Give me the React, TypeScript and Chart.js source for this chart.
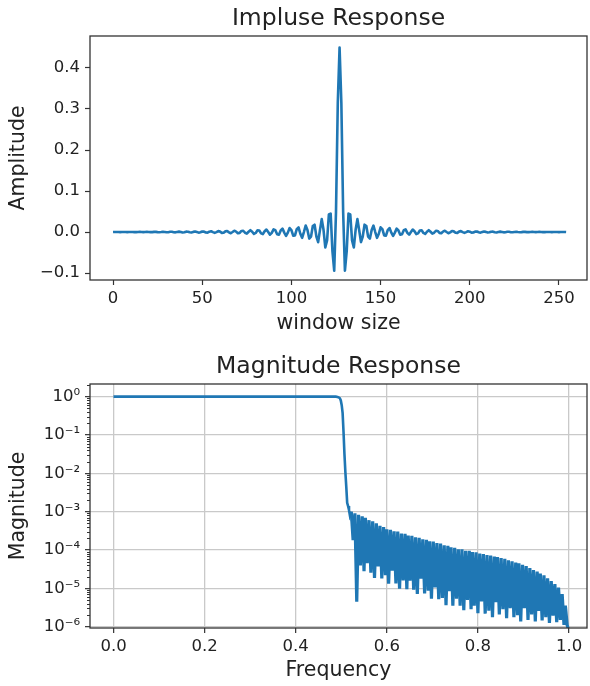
import React, { useEffect, useRef } from 'react';
import { Chart, registerables } from 'chart.js';

Chart.register(...registerables);

// ---------- Data: impulse response (taps 0..254) ----------
const IMPULSE = [
  -0.0001, 0.0002, 0.0001, -0.0001, -0.0002, 0.0001, 0.0002, 0, -0.0002, -0.0001,
  0.0002, 0.0002, -0.0002, -0.0002, 0.0001, 0.0003, -0.0001, -0.0003, -0.0001, 0.0004,
  0.0002, -0.0003, -0.0003, 0.0003, 0.0004, -0.0002, -0.0005, 0, 0.0006, 0.0002,
  -0.0006, -0.0004, 0.0005, 0.0006, -0.0004, -0.0008, 0.0001, 0.0009, 0.0002, -0.0010,
  -0.0005, 0.0009, 0.0008, -0.0007, -0.0011, 0.0004, 0.0013, 0, -0.0015, -0.0005,
  0.0014, 0.0010, -0.0012, -0.0015, 0.0009, 0.0019, -0.0003, -0.0021, -0.0003, 0.0022,
  0.0011, -0.0020, -0.0018, 0.0016, 0.0025, -0.0009, -0.0029, 0, 0.0032, 0.0010,
  -0.0031, -0.0021, 0.0026, 0.0031, -0.0018, -0.0039, 0.0007, 0.0044, 0.0007, -0.0045,
  -0.0022, 0.0041, 0.0037, -0.0032, -0.0050, 0.0018, 0.0060, 0, -0.0065, -0.0021,
  0.0063, 0.0043, -0.0054, -0.0064, 0.0037, 0.0082, -0.0014, -0.0093, -0.0015, 0.0097,
  0.0048, -0.0090, -0.0082, 0.0072, 0.0114, -0.0042, -0.0141, 0, 0.0157, 0.0052,
  -0.0160, -0.0113, 0.0145, 0.0179, -0.0109, -0.0247, 0.0045, 0.0314, 0.0055, -0.0375,
  -0.0205, 0.0427, 0.0449, -0.0467, -0.0944, 0.0492, 0.3144,
  0.45,
  0.3144, 0.0492, -0.0944, -0.0467, 0.0449, 0.0427, -0.0205, -0.0375, 0.0055, 0.0314,
  0.0045, -0.0247, -0.0109, 0.0179, 0.0145, -0.0113, -0.0160, 0.0052, 0.0157, 0,
  -0.0141, -0.0042, 0.0114, 0.0072, -0.0082, -0.0090, 0.0048, 0.0097, -0.0015, -0.0093,
  -0.0014, 0.0082, 0.0037, -0.0064, -0.0054, 0.0043, 0.0063, -0.0021, -0.0065, 0,
  0.0060, 0.0018, -0.0050, -0.0032, 0.0037, 0.0041, -0.0022, -0.0045, 0.0007, 0.0044,
  0.0007, -0.0039, -0.0018, 0.0031, 0.0026, -0.0021, -0.0031, 0.0010, 0.0032, 0,
  -0.0029, -0.0009, 0.0025, 0.0016, -0.0018, -0.0020, 0.0011, 0.0022, -0.0003, -0.0021,
  -0.0003, 0.0019, 0.0009, -0.0015, -0.0012, 0.0010, 0.0014, -0.0005, -0.0015, 0,
  0.0013, 0.0004, -0.0011, -0.0007, 0.0008, 0.0009, -0.0005, -0.0010, 0.0002, 0.0009,
  0.0001, -0.0008, -0.0004, 0.0006, 0.0005, -0.0004, -0.0006, 0.0002, 0.0006, 0,
  -0.0005, -0.0002, 0.0004, 0.0003, -0.0003, -0.0003, 0.0002, 0.0004, -0.0001, -0.0003,
  -0.0001, 0.0003, 0.0001, -0.0002, -0.0002, 0.0002, 0.0002, -0.0001, -0.0002, 0,
  0.0002, 0.0001, -0.0002, -0.0001, 0.0001, 0.0002, -0.0001,
];
const IMPULSE_X_TICKS = [0, 50, 100, 150, 200, 250];
const IMPULSE_Y_TICKS = [-0.1, 0, 0.1, 0.2, 0.3, 0.4];
const IMPULSE_Y_LABELS = ['\u22120.1', '0.0', '0.1', '0.2', '0.3', '0.4'];

// ---------- Data: magnitude response ----------
const FREQ = [
  0, 0.1, 0.2, 0.3, 0.4, 0.488, 0.492, 0.495, 0.497, 0.499, 0.501, 0.503, 0.505, 0.507, 0.509, 0.511, 0.513, 0.515, 0.517, 0.519,
  0.522, 0.526, 0.530, 0.534, 0.538, 0.542, 0.546, 0.550, 0.553, 0.557, 0.561, 0.565, 0.569, 0.573, 0.577, 0.581, 0.585, 0.589, 0.593, 0.597,
  0.600, 0.604, 0.608, 0.612, 0.616, 0.620, 0.624, 0.628, 0.632, 0.636, 0.640, 0.644, 0.647, 0.651, 0.655, 0.659, 0.663, 0.667, 0.671, 0.675,
  0.679, 0.683, 0.687, 0.691, 0.694, 0.698, 0.702, 0.706, 0.710, 0.714, 0.718, 0.722, 0.726, 0.730, 0.734, 0.738, 0.741, 0.745, 0.749, 0.753,
  0.757, 0.761, 0.765, 0.769, 0.773, 0.777, 0.781, 0.785, 0.788, 0.792, 0.796, 0.800, 0.804, 0.808, 0.812, 0.816, 0.820, 0.824, 0.828, 0.832,
  0.836, 0.840, 0.843, 0.847, 0.851, 0.855, 0.859, 0.863, 0.867, 0.871, 0.875, 0.879, 0.883, 0.887, 0.890, 0.894, 0.898, 0.902, 0.906, 0.910,
  0.914, 0.918, 0.922, 0.926, 0.930, 0.934, 0.937, 0.941, 0.945, 0.949, 0.953, 0.957, 0.961, 0.965, 0.969, 0.973, 0.977, 0.981, 0.985, 0.989,
  0.992, 0.996, 0.998,
];
const MAG = [
  1.0, 1.0, 1.0, 1.0, 1.0, 1.0, 0.98, 0.95, 0.91, 0.8, 0.6, 0.37, 0.12, 0.032, 0.011, 0.0045, 0.0017, 0.0014, 0.0011, 0.0008,
  1.0e-3, 1.82e-4, 9.1e-4, 4.47e-6, 8.3e-4, 3.98e-5, 7.6e-4, 2.82e-5, 6.9e-4, 4.57e-5, 6.0e-4, 2.57e-5, 5.6e-4, 1.86e-5, 5.0e-4, 3.72e-5, 4.27e-4, 1.82e-5, 3.98e-4, 2.19e-5,
  3.47e-4, 1.32e-5, 3.39e-4, 2.88e-5, 3.09e-4, 1.35e-5, 3.02e-4, 9.8e-6, 2.69e-4, 1.62e-5, 2.63e-4, 9.5e-6, 2.40e-4, 1.58e-5, 2.34e-4, 9.3e-6, 2.14e-4, 7.1e-6, 2.09e-4, 1.78e-5,
  1.91e-4, 7.4e-6, 1.86e-4, 8.7e-6, 1.70e-4, 5.4e-6, 1.66e-4, 1.05e-5, 1.51e-4, 5.2e-6, 1.48e-4, 5.6e-6, 1.32e-4, 3.63e-6, 1.29e-4, 8.5e-6, 1.17e-4, 3.55e-6, 1.15e-4, 5.4e-6,
  1.05e-4, 3.55e-6, 1.05e-4, 2.69e-6, 9.5e-5, 5.0e-6, 9.5e-5, 2.88e-6, 8.9e-5, 3.55e-6, 8.7e-5, 2.24e-6, 8.1e-5, 4.57e-6, 7.9e-5, 2.19e-6, 7.4e-5, 2.63e-6, 7.2e-5, 1.78e-6,
  6.8e-5, 4.37e-6, 6.6e-5, 2.09e-6, 6.2e-5, 2.88e-6, 5.9e-5, 1.66e-6, 5.4e-5, 3.02e-6, 5.1e-5, 1.78e-6, 4.7e-5, 2.0e-6, 4.5e-5, 1.38e-6, 4.1e-5, 3.02e-6, 3.8e-5, 1.51e-6,
  3.4e-5, 2.09e-6, 3.0e-5, 1.38e-6, 2.75e-5, 2.57e-6, 2.45e-5, 1.45e-6, 2.19e-5, 1.78e-6, 1.82e-5, 1.26e-6, 1.55e-5, 1.95e-6, 1.29e-5, 1.32e-6, 1.05e-5, 1.51e-6, 7.1e-6, 1.12e-6,
  3.55e-6, 1.1e-6, 9e-7,
];
const FREQ_TICKS = [0, 0.2, 0.4, 0.6, 0.8, 1.0];
const FREQ_LABELS = ['0.0', '0.2', '0.4', '0.6', '0.8', '1.0'];
const MAG_TICKS = [1e-6, 1e-5, 1e-4, 1e-3, 1e-2, 1e-1, 1];
const MAG_LABELS = ['10\u207B\u2076', '10\u207B\u2075', '10\u207B\u2074', '10\u207B\u00B3', '10\u207B\u00B2', '10\u207B\u00B9', '10\u2070'];

// ---------- Styles ----------
const FONT = 'DejaVu Sans';
const TEXT = '#222222';
const AXIS = '#333333';
const LINE = '#1f77b4';
const GRID = '#c9c9c9';
const W = 590;
const H = 343;
const DENSE_FROM = 0.52; // stopband: drawn a bit heavier, like the dense band in the source

const framePlugin = {
  id: 'frame',
  afterDatasetsDraw(chart: any) {
    const { ctx, chartArea } = chart;
    ctx.save();
    ctx.strokeStyle = AXIS;
    ctx.lineWidth = 1.3;
    ctx.strokeRect(chartArea.left, chartArea.top, chartArea.right - chartArea.left, chartArea.bottom - chartArea.top);
    ctx.restore();
  },
};

const minorTickPlugin = {
  id: 'minorTicks',
  afterDraw(chart: any) {
    const y = chart.scales.y;
    const { ctx, chartArea } = chart;
    ctx.save();
    ctx.strokeStyle = AXIS;
    ctx.lineWidth = 1;
    for (let e = -7; e <= 0; e++) {
      for (let m = 2; m <= 9; m++) {
        const v = m * Math.pow(10, e);
        if (v < y.min || v > y.max) continue;
        const py = Math.round(y.getPixelForValue(v)) + 0.5;
        ctx.beginPath();
        ctx.moveTo(chartArea.left - 3, py);
        ctx.lineTo(chartArea.left, py);
        ctx.stroke();
      }
    }
    ctx.restore();
  },
};

function tickFont() {
  return { family: FONT, size: 16.5 };
}
function labelFont() {
  return { family: FONT, size: 20.5, weight: 'normal' as const };
}

function impulseConfig(): any {
  return {
    type: 'line',
    data: {
      datasets: [
        {
          data: IMPULSE.map((y, i) => ({ x: i, y })),
          borderColor: LINE,
          borderWidth: 2.6,
          pointRadius: 0,
          tension: 0,
          fill: false,
          borderJoinStyle: 'round',
        },
      ],
    },
    options: {
      animation: false,
      responsive: false,
      devicePixelRatio: 1,
      events: [],
      layout: { padding: { left: 0, right: 3, top: 0, bottom: 0 } },
      plugins: {
        legend: { display: false },
        tooltip: { enabled: false },
        title: {
          display: true,
          fullSize: false,
          text: 'Impluse Response',
          color: TEXT,
          font: { family: FONT, size: 23.5, weight: 'normal' },
          padding: { top: 4.4, bottom: 3.4 },
        },
      },
      scales: {
        x: {
          type: 'linear',
          min: -12.9,
          max: 265.7,
          afterBuildTicks: (s: any) => {
            s.ticks = IMPULSE_X_TICKS.map((v) => ({ value: v }));
          },
          afterFit: (s: any) => {
            s.height = 63;
          },
          grid: { drawOnChartArea: false, drawTicks: true, tickLength: 5, tickColor: AXIS, tickWidth: 1.2 },
          border: { display: false },
          ticks: {
            color: TEXT,
            font: tickFont(),
            padding: 3.5,
            maxRotation: 0,
            autoSkip: false,
            callback: (_v: any, i: number) => String(IMPULSE_X_TICKS[i]),
          },
          title: { display: true, text: 'window size', color: TEXT, font: labelFont(), padding: { top: 0, bottom: 7.2 } },
        },
        y: {
          type: 'linear',
          min: -0.117,
          max: 0.478,
          afterBuildTicks: (s: any) => {
            s.ticks = IMPULSE_Y_TICKS.map((v) => ({ value: v }));
          },
          afterFit: (s: any) => {
            s.width = 90;
          },
          grid: { drawOnChartArea: false, drawTicks: true, tickLength: 5, tickColor: AXIS, tickWidth: 1.2 },
          border: { display: false },
          ticks: {
            color: TEXT,
            font: tickFont(),
            padding: 5,
            autoSkip: false,
            callback: (_v: any, i: number) => IMPULSE_Y_LABELS[i],
          },
          title: { display: true, text: 'Amplitude', color: TEXT, font: labelFont(), padding: { top: 6.7, bottom: 0 } },
        },
      },
    },
    plugins: [framePlugin],
  };
}

function magnitudeConfig(): any {
  return {
    type: 'line',
    data: {
      datasets: [
        {
          data: FREQ.map((x, i) => ({ x, y: MAG[i] })),
          borderColor: LINE,
          borderWidth: 2.6,
          pointRadius: 0,
          tension: 0,
          fill: false,
          segment: {
            borderWidth: (c: any) => (c.p0.parsed.x >= DENSE_FROM ? 3.2 : 2.6),
          },
        },
      ],
    },
    options: {
      animation: false,
      responsive: false,
      devicePixelRatio: 1,
      events: [],
      layout: { padding: { left: 0, right: 3, top: 0, bottom: 0 } },
      plugins: {
        legend: { display: false },
        tooltip: { enabled: false },
        title: {
          display: true,
          fullSize: false,
          text: 'Magnitude Response',
          color: TEXT,
          font: { family: FONT, size: 23.5, weight: 'normal' },
          padding: { top: 10.2, bottom: 2.6 },
        },
      },
      scales: {
        x: {
          type: 'linear',
          min: -0.0516,
          max: 1.0395,
          afterBuildTicks: (s: any) => {
            s.ticks = FREQ_TICKS.map((v) => ({ value: v }));
          },
          afterFit: (s: any) => {
            s.height = 58;
          },
          grid: { drawOnChartArea: true, color: GRID, lineWidth: 1.3, drawTicks: true, tickLength: 5, tickColor: AXIS, tickWidth: 1.2 },
          border: { display: false },
          ticks: {
            color: TEXT,
            font: tickFont(),
            padding: 3.5,
            maxRotation: 0,
            autoSkip: false,
            callback: (_v: any, i: number) => FREQ_LABELS[i],
          },
          title: { display: true, text: 'Frequency', color: TEXT, font: labelFont(), padding: { top: 0, bottom: 3.2 } },
        },
        y: {
          type: 'logarithmic',
          min: 9.25e-7,
          max: 2.14,
          afterBuildTicks: (s: any) => {
            s.ticks = MAG_TICKS.map((v) => ({ value: v }));
          },
          afterFit: (s: any) => {
            s.width = 90;
          },
          grid: { drawOnChartArea: true, color: GRID, lineWidth: 1.3, drawTicks: true, tickLength: 5, tickColor: AXIS, tickWidth: 1.2 },
          border: { display: false },
          ticks: {
            color: TEXT,
            font: tickFont(),
            padding: 5,
            autoSkip: false,
            callback: (_v: any, i: number) => MAG_LABELS[i],
          },
          title: { display: true, text: 'Magnitude', color: TEXT, font: labelFont(), padding: { top: 6.7, bottom: 0 } },
        },
      },
    },
    plugins: [framePlugin, minorTickPlugin],
  };
}

export default function App() {
  const topRef = useRef<HTMLCanvasElement | null>(null);
  const bottomRef = useRef<HTMLCanvasElement | null>(null);

  useEffect(() => {
    if (!topRef.current || !bottomRef.current) return;
    const c1 = new Chart(topRef.current, impulseConfig());
    const c2 = new Chart(bottomRef.current, magnitudeConfig());
    return () => {
      c1.destroy();
      c2.destroy();
    };
  }, []);

  return (
    <div style={{ position: 'absolute', left: 0, top: 0, width: W, height: 2 * H, background: '#ffffff' }}>
      <canvas ref={topRef} width={W} height={H} style={{ display: 'block', width: W, height: H }} />
      <canvas ref={bottomRef} width={W} height={H} style={{ display: 'block', width: W, height: H }} />
    </div>
  );
}
